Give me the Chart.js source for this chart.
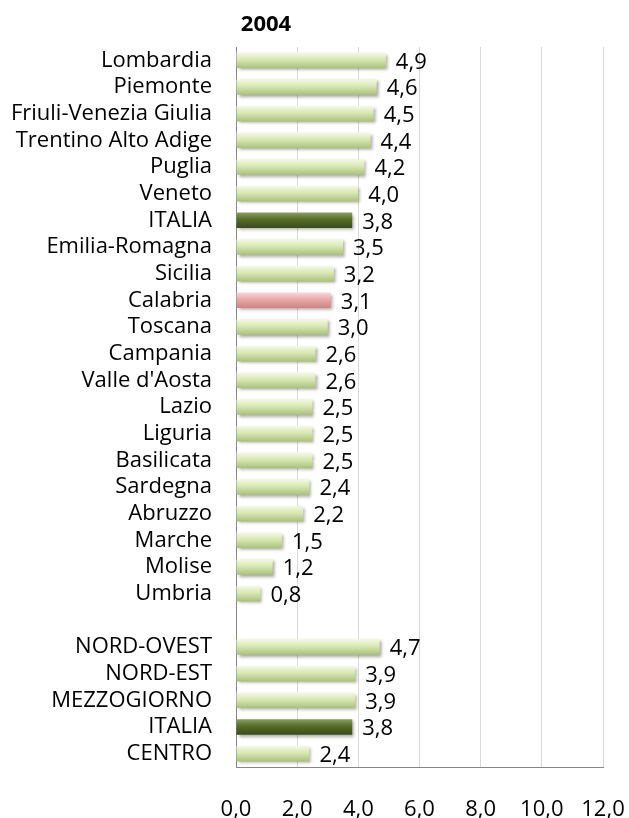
<!DOCTYPE html>
<html lang="it">
<head>
  <meta charset="UTF-8" />
  <script src="https://cdn.jsdelivr.net/npm/chart.js"></script>
  <title>2004</title>
  <style>
    body {
      margin: 0;
      padding: 0;
      background: #fff;
      font-family: 'Open Sans', sans-serif;
    }
    .wrap {
      position: relative;
      width: 629px;
      height: 818px;
    }
    .title {
      position: absolute;
      left: 166px;
      width: 200px;
      top: 7px;
      text-align: center;
      font-weight: bold;
      font-size: 22px;
      color: #000;
    }
  </style>
</head>
<body>
  <div class="wrap">
    <div class="title">2004</div>
    <canvas id="chart" width="629" height="818"></canvas>
  </div>

  <script>
    const regioni = [
      'Lombardia', 'Piemonte', 'Friuli-Venezia Giulia', 'Trentino Alto Adige', 'Puglia',
      'Veneto', 'ITALIA', 'Emilia-Romagna', 'Sicilia', 'Calabria', 'Toscana', 'Campania',
      "Valle d'Aosta", 'Lazio', 'Liguria', 'Basilicata', 'Sardegna', 'Abruzzo', 'Marche',
      'Molise', 'Umbria', '', 'NORD-OVEST', 'NORD-EST', 'MEZZOGIORNO', 'ITALIA', 'CENTRO'
    ];
    const valori = [
      4.9, 4.6, 4.5, 4.4, 4.2, 4.0, 3.8, 3.5, 3.2, 3.1, 3.0, 2.6, 2.6, 2.5, 2.5, 2.5,
      2.4, 2.2, 1.5, 1.2, 0.8, null, 4.7, 3.9, 3.9, 3.8, 2.4
    ];
    const xTicks = [0, 2, 4, 6, 8, 10, 12];

    // tipo di barra: 'it' = Italia, 'cal' = Calabria, altrimenti normale
    function tipo(i) {
      if (regioni[i] === 'ITALIA') return 'it';
      if (regioni[i] === 'Calabria') return 'cal';
      return 'n';
    }

    const palette = {
      n: ['#f4fae2', '#d9e8b2', '#a9c07a'],
      it: ['#86a455', '#566b2c', '#3a4a1c'],
      cal: ['#fbdada', '#eba7a7', '#c98585']
    };

    function barColor(context) {
      const chart = context.chart;
      const c = palette[tipo(context.dataIndex)] || palette.n;
      const y = chart.scales.y;
      if (!y || context.dataIndex === undefined) return c[1];
      const cy = y.getPixelForValue(context.dataIndex);
      if (!isFinite(cy)) return c[1];
      const h = 16;
      const g = chart.ctx.createLinearGradient(0, cy - h / 2, 0, cy + h / 2);
      g.addColorStop(0, c[0]);
      g.addColorStop(0.45, c[1]);
      g.addColorStop(1, c[2]);
      return g;
    }

    const shadowPlugin = {
      id: 'shadow',
      beforeDatasetsDraw(chart) {
        const ctx = chart.ctx;
        ctx.save();
        ctx.shadowColor = 'rgba(0,0,0,0.35)';
        ctx.shadowBlur = 3;
        ctx.shadowOffsetX = 2;
        ctx.shadowOffsetY = 2;
      },
      afterDatasetsDraw(chart) {
        chart.ctx.restore();
      }
    };

    const labelPlugin = {
      id: 'valueLabels',
      afterDraw(chart) {
        const ctx = chart.ctx;
        const meta = chart.getDatasetMeta(0);
        ctx.save();
        ctx.font = '22px "Open Sans", sans-serif';
        ctx.fillStyle = '#000';
        ctx.textBaseline = 'middle';
        ctx.textAlign = 'left';
        meta.data.forEach((el, i) => {
          const v = valori[i];
          if (v === null || v === undefined) return;
          ctx.fillText(v.toFixed(1).replace('.', ','), el.x + 10, el.y + 2);
        });
        ctx.restore();
      }
    };

    new Chart(document.getElementById('chart'), {
      type: 'bar',
      data: {
        labels: regioni,
        datasets: [{
          data: valori,
          backgroundColor: barColor,
          borderWidth: 0,
          barPercentage: 0.58,
          categoryPercentage: 1
        }]
      },
      options: {
        indexAxis: 'y',
        responsive: false,
        animation: false,
        layout: { padding: { top: 47, right: 26, left: 0, bottom: 0 } },
        plugins: {
          legend: { display: false },
          title: { display: false },
          tooltip: { enabled: false }
        },
        scales: {
          x: {
            min: 0,
            max: 12,
            afterBuildTicks(scale) {
              scale.ticks = xTicks.map(v => ({ value: v }));
            },
            afterFit(scale) {
              scale.height = 51;
              scale.paddingLeft = 0;
              scale.paddingRight = 0;
            },
            grid: { color: '#d9d9d9', drawTicks: false },
            border: { color: '#868686' },
            ticks: {
              padding: 30,
              color: '#000',
              font: { family: 'Open Sans', size: 22 },
              callback: v => v.toFixed(1).replace('.', ',')
            }
          },
          y: {
            afterFit(scale) { scale.width = 236; },
            grid: { display: false, drawTicks: false },
            border: { color: '#868686' },
            ticks: {
              padding: 24,
              color: '#000',
              autoSkip: false,
              font: { family: 'Open Sans', size: 22 }
            }
          }
        }
      },
      plugins: [shadowPlugin, labelPlugin]
    });
  </script>
</body>
</html>
